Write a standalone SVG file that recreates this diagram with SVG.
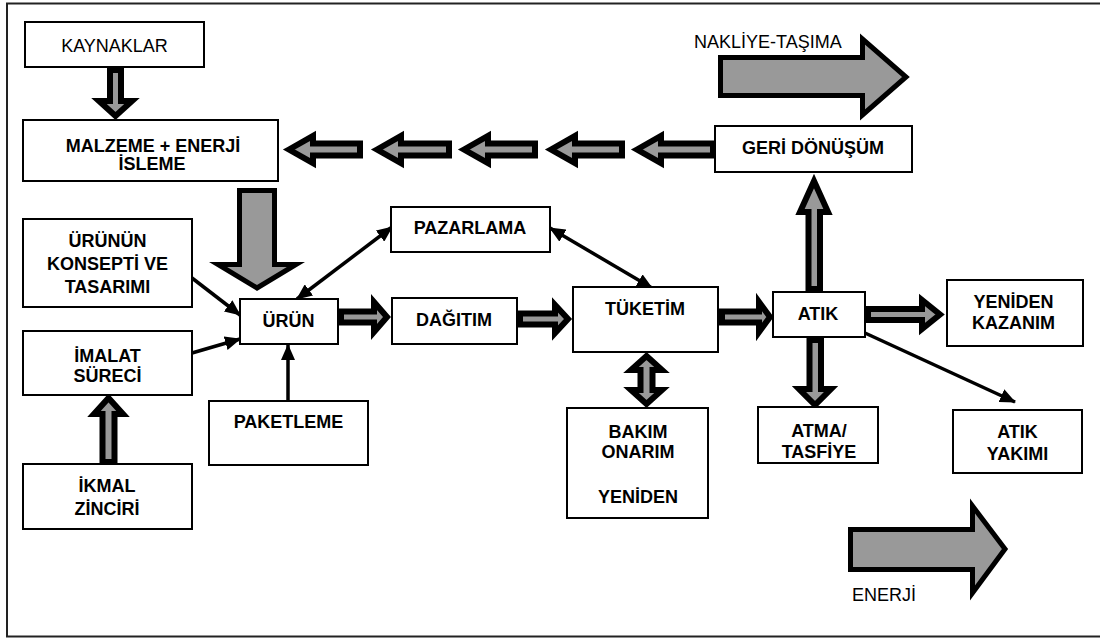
<svg xmlns="http://www.w3.org/2000/svg" width="1100" height="641" viewBox="0 0 1100 641">
<style>
.box{fill:#fff;stroke:#000;stroke-width:2}
.frame{fill:none;stroke:#222;stroke-width:2}
.b{font-family:"Liberation Sans",Arial,sans-serif;font-weight:bold;font-size:18px;text-anchor:middle;fill:#000}
.r{font-family:"Liberation Sans",Arial,sans-serif;font-size:18px;fill:#000}
.blk{fill:#999;stroke:#000;stroke-width:6;stroke-linejoin:miter;stroke-miterlimit:10}
.big{stroke-width:5}
.thin{fill:none;stroke:#000;stroke-width:3.5}
</style>
<defs>
<marker id="ah" markerUnits="userSpaceOnUse" markerWidth="16" markerHeight="14" refX="15" refY="7" orient="auto-start-reverse">
<path d="M0,0 L16,7 L0,14 z" fill="#000"/>
</marker>
</defs>
<rect class="frame" x="7" y="3.5" width="1100" height="633"/>

<g id="connectors">
<polygon class="blk" points="110,70 121,70 121,101 132,101 115.5,116 99,101 110,101"/>
<polygon class="blk" points="289,149.5 313,136 313,143.5 360,143.5 360,155.5 313,155.5 313,163"/>
<polygon class="blk" points="377,149.5 401,136 401,143.5 449,143.5 449,155.5 401,155.5 401,163"/>
<polygon class="blk" points="464,149.5 488,136 488,143.5 535,143.5 535,155.5 488,155.5 488,163"/>
<polygon class="blk" points="551,149.5 575,136 575,143.5 622,143.5 622,155.5 575,155.5 575,163"/>
<polygon class="blk" points="637,149.5 661,136 661,143.5 713,143.5 713,155.5 661,155.5 661,163"/>
<polygon class="blk big" points="720.5,57.5 862.5,57.5 862.5,39 906,77 862.5,115 862.5,95.5 720.5,95.5"/>
<polygon class="blk big" points="239.5,190.5 274.5,190.5 274.5,264.5 296,264.5 257,288 218,264.5 239.5,264.5"/>
<polygon class="blk" points="102.5,462 114.5,462 114.5,414 123,414 108.5,398 94,414 102.5,414"/>
<polygon class="blk" points="341,311.5 374,311.5 374,302 387,317 374,332 374,322.5 341,322.5"/>
<polygon class="blk" points="520,313.5 555,313.5 555,305 568,319 555,333 555,324.5 520,324.5"/>
<polygon class="blk" points="646.5,356 662,370 652.5,370 652.5,390 662,390 646.5,404 631,390 640.5,390 640.5,370 631,370"/>
<polygon class="blk" points="722,311.5 759,311.5 759,302 770,317 759,332 759,322.5 722,322.5"/>
<polygon class="blk" points="808.5,289 820,289 820,212 828,212 814,181 800,212 808.5,212"/>
<polygon class="blk" points="809.5,340 821,340 821,389 831,389 815,405 799,389 809.5,389"/>
<polygon class="blk" points="868,309 922,309 922,300 940,314.5 922,329 922,320 868,320"/>
<polygon class="blk big" points="850.5,529.5 972.5,529.5 972.5,506 1005,549 972.5,593 972.5,569.5 850.5,569.5"/>
<line class="thin" x1="192" y1="278" x2="240" y2="315" marker-end="url(#ah)"/>
<line class="thin" x1="192" y1="353" x2="240" y2="339" marker-end="url(#ah)"/>
<line class="thin" x1="288" y1="401" x2="288" y2="345" marker-end="url(#ah)"/>
<line class="thin" x1="297" y1="299" x2="392" y2="227" marker-start="url(#ah)" marker-end="url(#ah)"/>
<line class="thin" x1="550" y1="228" x2="652" y2="288" marker-start="url(#ah)" marker-end="url(#ah)"/>
<line class="thin" x1="865" y1="333" x2="1015" y2="402" marker-end="url(#ah)"/>
</g>

<g id="kaynaklar"><rect class="box" x="25" y="22" width="179" height="45"/><text class="r" x="114.5" y="52" text-anchor="middle">KAYNAKLAR</text></g>
<g id="malzeme"><rect class="box" x="23" y="120" width="255" height="61"/><text class="b" x="153" y="152" font-size="18.5">MALZEME + ENERJİ</text><text class="b" x="152" y="170" font-size="18.5">İSLEME</text></g>
<g id="geri-donusum"><rect class="box" x="715" y="126" width="197" height="46"/><text class="b" x="813" y="154">GERİ DÖNÜŞÜM</text></g>
<g id="nakliye"><text class="r" x="694" y="48" font-size="18.5">NAKLİYE-TAŞIMA</text></g>
<g id="konsept"><rect class="box" x="23" y="219" width="169" height="88"/><text class="b" x="107.5" y="247">ÜRÜNÜN</text><text class="b" x="107.5" y="270">KONSEPTİ VE</text><text class="b" x="107.5" y="293">TASARIMI</text></g>
<g id="imalat"><rect class="box" x="23" y="331" width="169" height="64"/><text class="b" x="107.5" y="362">İMALAT</text><text class="b" x="107.5" y="382">SÜRECİ</text></g>
<g id="ikmal"><rect class="box" x="23" y="464" width="169" height="65"/><text class="b" x="107" y="492">İKMAL</text><text class="b" x="107" y="515">ZİNCİRİ</text></g>
<g id="urun"><rect class="box" x="240" y="299" width="98" height="45"/><text class="b" x="288.5" y="327">ÜRÜN</text></g>
<g id="paketleme"><rect class="box" x="209" y="401" width="159" height="64"/><text class="b" x="288.5" y="428">PAKETLEME</text></g>
<g id="pazarlama"><rect class="box" x="391" y="207" width="159" height="45"/><text class="b" x="470" y="234">PAZARLAMA</text></g>
<g id="dagitim"><rect class="box" x="392" y="298" width="125" height="46"/><text class="b" x="454" y="326">DAĞITIM</text></g>
<g id="tuketim"><rect class="box" x="573" y="287" width="145" height="65"/><text class="b" x="645" y="315">TÜKETİM</text></g>
<g id="bakim"><rect class="box" x="567" y="408" width="141" height="110"/><text class="b" x="638" y="438">BAKIM</text><text class="b" x="638" y="458">ONARIM</text><text class="b" x="638" y="503">YENİDEN</text></g>
<g id="atik"><rect class="box" x="773" y="292" width="92" height="45"/><text class="b" x="818" y="320">ATIK</text></g>
<g id="yeniden-kazanim"><rect class="box" x="947" y="280" width="136" height="66"/><text class="b" x="1013.5" y="308">YENİDEN</text><text class="b" x="1013.5" y="329">KAZANIM</text></g>
<g id="atma"><rect class="box" x="758" y="407" width="120" height="56"/><text class="b" x="819" y="437">ATMA/</text><text class="b" x="819" y="458">TASFİYE</text></g>
<g id="atik-yakimi"><rect class="box" x="953" y="410" width="129" height="63"/><text class="b" x="1017.5" y="438">ATIK</text><text class="b" x="1017.5" y="460">YAKIMI</text></g>
<g id="enerji"><text class="r" x="852" y="601" font-size="17">ENERJİ</text></g>
</svg>
